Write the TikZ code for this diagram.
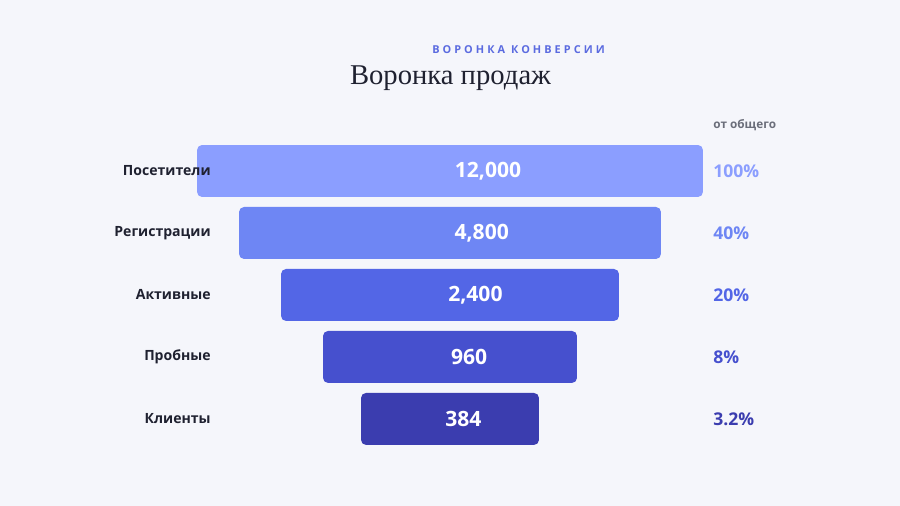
\documentclass[tikz,border=0pt]{standalone}
\usepackage{fontspec}
\setmainfont{Open Sans}
\newfontfamily\titlefont{Liberation Serif}
\newfontfamily\capsfont{Open Sans}[LetterSpace=28]
\usetikzlibrary{positioning,calc}
\definecolor{bgcol}{HTML}{F5F6FB}
\definecolor{stageA}{HTML}{8B9EFF}
\definecolor{stageB}{HTML}{6E86F4}
\definecolor{stageC}{HTML}{5366E6}
\definecolor{stageD}{HTML}{4650CE}
\definecolor{stageE}{HTML}{3B3DAF}
\definecolor{inkcol}{HTML}{1F2130}
\definecolor{mutedcol}{HTML}{6B6E7A}
\definecolor{accentcol}{HTML}{5B6BE0}

\begin{document}
\begin{tikzpicture}[x=0.02cm,y=-0.02cm,node distance=1.24cm,on grid,
	bar/.style={rounded corners=0.1cm,minimum height=1.04cm,inner sep=0pt},
	value/.style={text=white,inner sep=0pt,font=\fontsize{12}{14}\selectfont\bfseries},
	stage/.style={anchor=east,text=inkcol,inner sep=0pt,font=\fontsize{8}{10}\selectfont\bfseries},
	share/.style={anchor=west,inner sep=0pt,font=\fontsize{10}{12}\selectfont\bfseries}]
	\fill[bgcol] (0,0) rectangle (900,506);
	\useasboundingbox (0,0) rectangle (900,506);
	\node[accentcol,font=\capsfont\fontsize{6.2}{8}\selectfont\bfseries] (kicker) at (518.5,50) {ВОРОНКА КОНВЕРСИИ};
	\node[inkcol,font=\titlefont\fontsize{16.3}{18}\selectfont] (title) at (450.5,78) {Воронка продаж};
	\node[bar,fill=stageA,minimum width=10.12cm] (visits) at (450,171) {};
	\node[bar,fill=stageB,minimum width=8.44cm]  (signups) [below=of visits]  {};
	\node[bar,fill=stageC,minimum width=6.76cm]  (active)  [below=of signups] {};
	\node[bar,fill=stageD,minimum width=5.08cm]  (trials)  [below=of active]  {};
	\node[bar,fill=stageE,minimum width=3.56cm]  (clients) [below=of trials]  {};
	\node[value] (v1) at ($(visits.west)!0.575!(visits.east)$)   {12,000};
	\node[value] (v2) at ($(signups.west)!0.575!(signups.east)$) {4,800};
	\node[value] (v3) at ($(active.west)!0.575!(active.east)$)   {2,400};
	\node[value] (v4) at ($(trials.west)!0.575!(trials.east)$)   {960};
	\node[value] (v5) at ($(clients.west)!0.575!(clients.east)$) {384};
	\coordinate (labx) at (211,0);
	\coordinate (pctx) at (713,0);
	\node[stage] (l1) at (labx |- visits)  {Посетители};
	\node[stage] (l2) at (labx |- signups) {Регистрации};
	\node[stage] (l3) at (labx |- active)  {Активные};
	\node[stage] (l4) at (labx |- trials)  {Пробные};
	\node[stage] (l5) at (labx |- clients) {Клиенты};
	\node[share,stageA] (p1) at (pctx |- visits)  {100\%};
	\node[share,stageB] (p2) at (pctx |- signups) {40\%};
	\node[share,stageC] (p3) at (pctx |- active)  {20\%};
	\node[share,stageD] (p4) at (pctx |- trials)  {8\%};
	\node[share,stageE] (p5) at (pctx |- clients) {3.2\%};
	\node[anchor=west,inner sep=0pt,mutedcol,font=\fontsize{6.7}{9}\selectfont\bfseries] (total) at (713,125) {от общего};
\end{tikzpicture}
\end{document}
